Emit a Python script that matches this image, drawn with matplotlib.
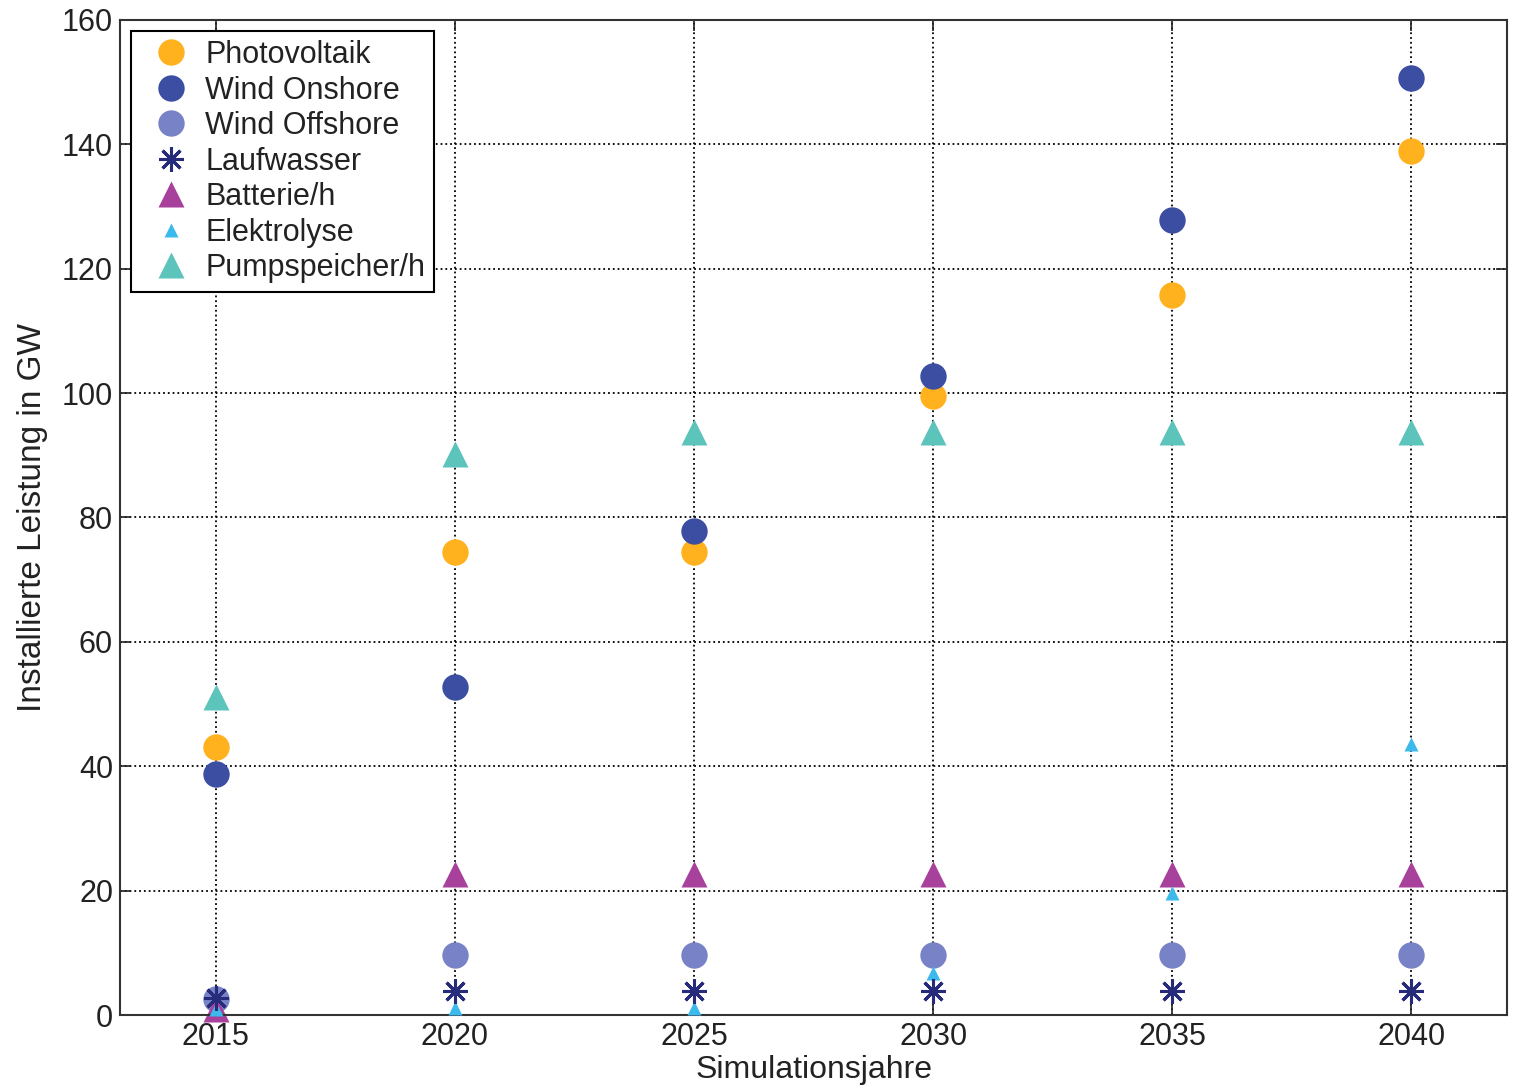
import numpy as np
import matplotlib.pyplot as plt

plt.rcParams['font.family'] = ['Liberation Sans', 'DejaVu Sans']

jahre = [2015, 2020, 2025, 2030, 2035, 2040]

photovoltaik = [43.1, 74.4, 74.4, 99.6, 115.7, 139.0]
wind_onshore = [38.7, 52.8, 77.9, 102.8, 127.9, 150.7]
wind_offshore = [2.6, 9.6, 9.6, 9.6, 9.6, 9.6]
laufwasser = [2.7, 3.8, 3.8, 3.8, 3.8, 3.8]
batterie = [0.9, 22.6, 22.6, 22.6, 22.6, 22.6]
elektrolyse = [1.0, 1.2, 1.2, 6.8, 19.6, 43.5]
pumpspeicher = [51.2, 90.2, 93.7, 93.7, 93.7, 93.7]

fig = plt.figure(figsize=(15.14, 10.92), dpi=100)
ax = fig.add_axes([0.0793, 0.0705, 0.9161, 0.9112])

kw = dict(linestyle='none', clip_on=False)
ax.plot(jahre, photovoltaik, marker='o', color='#FFB21E', ms=19, mec='none', label='Photovoltaik', **kw)
ax.plot(jahre, wind_onshore, marker='o', color='#3B4EA2', ms=19, mec='none', label='Wind Onshore', **kw)
ax.plot(jahre, wind_offshore, marker='o', color='#7882C6', ms=19, mec='none', label='Wind Offshore', **kw)
ax.plot(jahre, batterie, marker='^', color='#A8419B', ms=19, mec='none', label='Batterie/h', zorder=2.1, **kw)
ax.plot(jahre, elektrolyse, marker='^', color='#3DBAEC', ms=10, mec='none', label='Elektrolyse', zorder=2.6, **kw)
ax.plot(jahre, laufwasser, marker=(8, 2, 0), color='#262B7C', ms=18, mew=2.2, label='Laufwasser', zorder=2.7, **kw)
ax.plot(jahre, pumpspeicher, marker='^', color='#5CC4BB', ms=19, mec='none', label='Pumpspeicher/h', zorder=2.8, **kw)

ax.set_xlim(2013, 2042)
ax.set_ylim(0, 160)
ax.set_xticks(jahre)
ax.set_yticks(np.arange(0, 161, 20))
ax.grid(True, linestyle=':', color='black', linewidth=1.3)
ax.tick_params(direction='in', length=8, width=1.2, top=True, right=True, labelsize=22, pad=5,
               colors='#222222')
for s in ax.spines.values():
    s.set_linewidth(1.5)
    s.set_color('#333333')

ax.set_xlabel('Simulationsjahre', fontsize=23, labelpad=2, color='#222222')
ax.set_ylabel('Installierte Leistung in GW', fontsize=24, labelpad=10, color='#222222')

h, l = ax.get_legend_handles_labels()
order = ['Photovoltaik', 'Wind Onshore', 'Wind Offshore', 'Laufwasser', 'Batterie/h', 'Elektrolyse', 'Pumpspeicher/h']
hh = [h[l.index(n)] for n in order]
leg = ax.legend(hh, order, loc='upper left', fontsize=22, frameon=True, fancybox=False,
                edgecolor='black', handlelength=2.0, handletextpad=0.13, labelspacing=0.18,
                borderaxespad=0.36, borderpad=0.3, numpoints=1)
leg.get_frame().set_linewidth(1.5)
leg.get_frame().set_alpha(1)
leg.set_zorder(5)
for t in leg.get_texts():
    t.set_color('#222222')

fig.savefig('out.png', dpi=100)
